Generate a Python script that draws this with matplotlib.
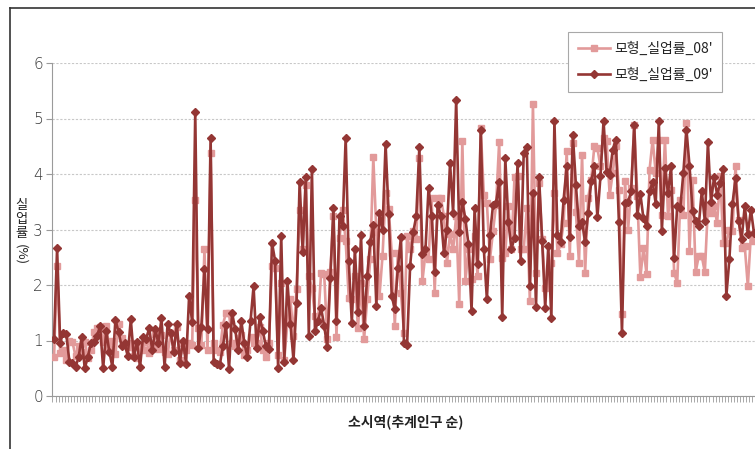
import numpy as np
import matplotlib.pyplot as plt
from matplotlib.lines import Line2D

plt.rcParams['font.family'] = ['Noto Sans CJK KR', 'DejaVu Sans']

# 모형 실업률 (%), 시군 추계인구 순
rate_08 = [
    0.70, 2.35, 0.78, 0.82, 0.65, 1.00, 0.97, 0.72, 0.90, 0.80,
    0.98, 0.68, 0.82, 1.15, 1.22, 1.25, 0.98, 1.26, 0.85, 1.00,
    0.75, 1.30, 1.05, 0.92, 0.88, 0.95, 0.72, 0.68, 0.90, 0.82,
    1.00, 0.78, 0.88, 1.12, 0.85,
    1.10, 0.80, 0.76, 1.13, 0.83, 1.25, 0.65, 0.95, 0.83, 0.95,
    0.92, 3.53, 1.22, 0.92, 2.64, 0.83, 4.38, 0.95, 0.83, 0.80,
    1.28, 1.50, 1.50, 0.95, 0.90, 1.05, 1.10, 0.74, 0.83, 1.07,
    0.95, 0.95, 1.25, 0.83, 0.71, 0.95, 2.34, 2.30, 0.74, 2.04,
    0.65, 1.31, 1.74,
    1.09, 1.93, 3.36, 2.65, 3.81, 2.16, 1.95, 1.44, 1.35, 2.22,
    2.20, 1.02, 2.23, 3.24, 1.06, 2.85, 3.36, 2.79, 1.77, 1.74,
    2.16, 1.22, 2.04, 1.02, 1.75, 2.46, 4.30, 2.95, 1.80, 2.52,
    3.66, 3.37, 2.58, 1.27, 2.58, 1.86, 1.14, 2.88, 2.64, 2.97,
    2.82,
    4.28, 2.07, 2.58, 2.46, 3.57, 1.86, 3.57, 3.57, 3.24, 2.40,
    2.91, 2.64, 3.24, 1.65, 4.60, 2.07, 2.64, 2.10, 2.88, 2.16,
    4.82, 3.63, 3.48, 2.46, 2.97, 3.45, 4.58, 2.49, 2.58, 3.42,
    2.64, 3.95, 3.96, 2.64, 2.64, 3.39, 1.71, 5.26, 2.22,
    3.84, 2.82, 1.95, 2.04, 2.40, 3.66, 2.58, 2.73, 3.12, 4.42,
    2.53, 4.56, 3.31, 2.40, 4.35, 2.22, 3.57, 3.90, 4.50, 4.46,
    4.14, 4.65, 4.59, 3.62, 4.02, 4.50, 3.72, 1.48, 3.87, 3.00,
    3.75, 4.89, 3.60, 2.14, 2.67, 2.20, 4.08, 4.62, 4.02, 4.62,
    3.27, 4.62,
    3.24, 3.72, 2.22, 2.04, 3.54, 3.27, 4.91, 2.61, 3.90, 2.23,
    2.52, 2.52, 2.23, 3.42, 3.30, 3.42, 3.12, 3.96, 2.76, 2.76,
    3.00, 2.97, 4.15, 3.18, 2.67, 2.70, 1.98, 2.91, 2.79,
]

rate_09 = [
    1.02, 2.66, 0.96, 1.14, 1.12, 0.62, 0.60, 0.52, 0.70, 1.06,
    0.50, 0.70, 0.95, 0.97, 1.08, 1.26, 0.50, 1.17, 0.80, 0.53,
    1.37, 1.16, 0.90, 0.95, 0.72, 1.38, 0.70, 0.98, 0.52, 1.07,
    1.03, 1.22, 0.82, 1.20, 0.95,
    1.40, 0.53, 1.30, 1.13, 0.80, 1.30, 0.60, 1.00, 0.58, 1.80,
    1.33, 5.11, 0.86, 1.25, 2.29, 1.20, 4.65, 0.62, 0.58, 0.56,
    0.90, 1.28, 0.49, 1.50, 1.20, 0.83, 1.35, 0.95, 0.71, 1.35,
    1.98, 0.86, 1.42, 1.17, 0.90, 0.85, 2.76, 2.44, 0.50, 2.89,
    0.62, 2.08, 1.30,
    0.65, 1.68, 3.86, 2.60, 3.94, 1.09, 4.09, 1.17, 1.35, 1.58,
    1.27, 0.88, 2.13, 3.38, 1.36, 3.25, 3.07, 4.65, 2.44, 1.32,
    2.65, 1.51, 2.90, 1.26, 2.16, 2.77, 3.08, 1.62, 3.30, 3.00,
    4.54, 3.28, 1.80, 1.57, 2.31, 2.86, 0.95, 0.91, 2.35, 2.95,
    3.24,
    4.48, 2.55, 2.65, 3.75, 3.25, 2.23, 3.45, 3.25, 2.58, 3.00,
    4.20, 3.30, 5.34, 2.95, 3.50, 3.19, 2.73, 1.54, 3.38, 2.37,
    4.80, 2.65, 1.74, 2.90, 3.44, 3.48, 3.86, 1.42, 4.28, 3.14,
    2.65, 2.85, 4.20, 2.44, 4.38, 4.48, 1.98, 3.66, 1.60,
    3.95, 2.80, 1.58, 2.70, 1.40, 4.95, 2.90, 2.77, 3.54, 4.14,
    2.86, 4.70, 3.80, 3.06, 3.14, 2.77, 3.30, 3.87, 4.15, 3.22,
    3.96, 4.96, 4.04, 3.99, 4.44, 4.62, 3.14, 1.14, 3.48, 3.50,
    3.69, 4.89, 3.27, 3.64, 3.20, 3.06, 3.69, 3.86, 3.46, 4.95,
    2.98, 4.10,
    3.66, 4.14, 2.49, 3.42, 3.39, 4.02, 4.80, 4.15, 3.33, 3.15,
    3.06, 3.69, 3.15, 4.57, 3.49, 3.94, 3.63, 3.84, 4.09, 1.80,
    2.47, 3.46, 3.93, 3.15, 2.83, 3.43, 2.92, 3.36, 2.94,
]

labels = ["모형_실업률_08'", "모형_실업률_09'"]
y_ticks = [0, 1, 2, 3, 4, 5, 6]

W, H = 755, 449
fig = plt.figure(figsize=(W / 100, H / 100), dpi=100)
fig.patch.set_facecolor('white')

n = len(rate_09)
ax = fig.add_axes([52.5 / W, 53 / H, 703 / W, 333 / H])

light = '#E29A9A'
dark = '#943634'
ax.plot(np.arange(len(rate_08)), rate_08, color=light, lw=1.9, marker='s',
        ms=5.0, mec=light, mfc=light, label=labels[0], zorder=3)
ax.plot(np.arange(n), rate_09, color=dark, lw=1.9, marker='D',
        ms=3.8, mec=dark, mfc=dark, label=labels[1], zorder=4)

ax.set_xlim(-0.5, n - 0.5)
ax.set_ylim(0, 6)
ax.set_yticks(y_ticks)
ax.set_xticks(np.arange(-0.5, n, 1))
ax.set_xticklabels([])
ax.tick_params(axis='x', length=4, width=0.6, color='#9a9a9a', direction='out')
ax.tick_params(axis='y', length=4, width=0.8, color='#9a9a9a', direction='out',
               labelsize=11, labelcolor='#3a3a3a', pad=3)
for lab in ax.get_yticklabels():
    lab.set_family(['DejaVu Sans'])
    lab.set_fontweight('light')

ax.yaxis.grid(True, color='#c8c8c8', lw=0.8, ls=(0, (2, 1.5)))
ax.set_axisbelow(True)
for side in ['top', 'right']:
    ax.spines[side].set_visible(False)
ax.spines['left'].set_color('#9a9a9a')
ax.spines['bottom'].set_color('#9a9a9a')

# outer chart frame (cut by the image edge)
fig.add_artist(Line2D([10 / W, 10 / W], [0, 1 - 8 / H], color='#333333', lw=1.2))
fig.add_artist(Line2D([10 / W, 1], [1 - 8 / H, 1 - 8 / H], color='#333333', lw=1.2))

leg = fig.legend(loc='upper left', bbox_to_anchor=(568 / W, 1 - 32 / H),
                 frameon=True, fancybox=False, framealpha=1, edgecolor='#a8a8a8',
                 fontsize=10, handlelength=2.3, labelspacing=0.85,
                 borderpad=0.7, handletextpad=0.3, borderaxespad=0)
leg.get_frame().set_linewidth(0.8)
for t in leg.get_texts():
    t.set_color('#222222')

# vertical axis title: Korean upright, bracket part turned
for ch, yc in zip(['실', '업', '률'], [205, 219, 233]):
    fig.text(21 / W, 1 - yc / H, ch, ha='center', va='center', fontsize=9.5,
             color='#222222')
fig.text(21 / W, 1 - 255 / H, '(%)', ha='center', va='center', fontsize=9.5,
         rotation=270, color='#222222')

fig.text(406 / W, 1 - 422 / H, '소시역(추계인구 순)', ha='center', va='center',
         fontsize=10, fontweight='bold', color='#222222')

fig.savefig('out.png', dpi=100)
